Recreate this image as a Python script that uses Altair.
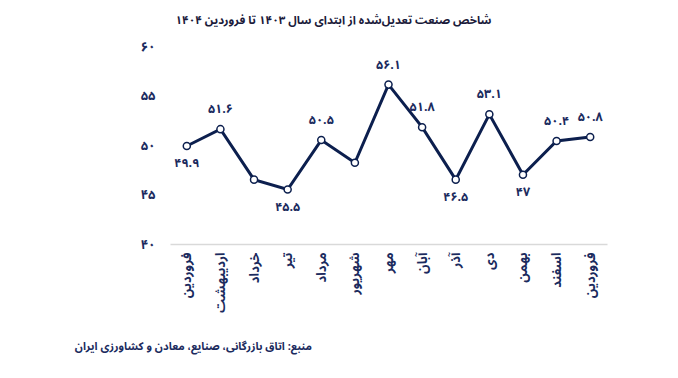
import altair as alt
import pandas as pd

months = ["فروردین", "اردیبهشت", "خرداد", "تیر", "مرداد", "شهریور", "مهر",
          "آبان", "آذر", "دی", "بهمن", "اسفند", "فروردین"]
values = [49.9, 51.6, 46.5, 45.5, 50.5, 48.2, 56.1, 51.8, 46.5, 53.1, 47.0, 50.4, 50.8]
value_labels = ["۴۹.۹", "۵۱.۶", "", "۴۵.۵", "۵۰.۵", "", "۵۶.۱", "۵۱.۸", "۴۶.۵",
                "۵۳.۱", "۴۷", "۵۰.۴", "۵۰.۸"]
label_side = ["below", "above", "below", "below", "above", "below", "above",
              "above", "below", "above", "below", "above", "above"]
y_ticks = [40, 45, 50, 55, 60]
y_tick_labels = ["۴۰", "۴۵", "۵۰", "۵۵", "۶۰"]

title_text = "شاخص صنعت تعدیل‌شده از ابتدای سال ۱۴۰۳ تا فروردین ۱۴۰۴"
source_text = "منبع: اتاق بازرگانی، صنایع، معادن و کشاورزی ایران"

FONT = "Noto Sans Arabic, DejaVu Sans"
NAVY = "#0c1f4e"
TEXT = "#1b2b5e"

df = pd.DataFrame({
    "idx": list(range(len(months))),
    "month": months,
    "value": values,
    "label": value_labels,
    "side": label_side,
})

month_expr = "[" + ",".join("'" + m + "'" for m in months) + "][datum.value]"
ytick_expr = " : ".join(
    f"datum.value == {v} ? '{l}'" for v, l in zip(y_ticks, y_tick_labels)
) + " : datum.label"

x = alt.X(
    "idx:O",
    scale=alt.Scale(type="point", padding=0.5),
    axis=alt.Axis(
        title=None, labelExpr=month_expr, labelAngle=270, labelFont=FONT,
        labelFontSize=13, labelFontWeight="bold", labelColor=TEXT,
        labelPadding=8, ticks=False, domainColor="#d9d9d9", domainWidth=1.5,
        grid=False,
    ),
)
y = alt.Y(
    "value:Q",
    scale=alt.Scale(domain=[40, 60], nice=False, zero=False),
    axis=alt.Axis(
        title=None, values=y_ticks, labelExpr=ytick_expr, labelFont=FONT,
        labelFontSize=13, labelFontWeight="bold", labelColor=TEXT,
        labelPadding=15, ticks=False, domain=False, grid=False,
    ),
)

base = alt.Chart(df)
line = base.mark_line(color=NAVY, strokeWidth=3).encode(x=x, y=y)
pts = base.mark_point(filled=True, fill="white", stroke=NAVY, strokeWidth=1.5,
                      size=50, opacity=1).encode(x=x, y=y)
above = base.transform_filter("datum.side == 'above'").mark_text(
    dy=-20, font=FONT, fontSize=12.5, fontWeight="bold", color=TEXT
).encode(x=x, y=y, text="label:N")
below = base.transform_filter("datum.side == 'below'").mark_text(
    dy=17, font=FONT, fontSize=12.5, fontWeight="bold", color=TEXT
).encode(x=x, y=y, text="label:N")
source = alt.Chart(pd.DataFrame({"t": [source_text]})).mark_text(
    font=FONT, fontSize=11, fontWeight="bold", color=TEXT, align="right",
    baseline="middle"
).encode(x=alt.value(142), y=alt.value(301), text="t:N")

chart = alt.layer(line, pts, above, below, source).properties(
    width=437, height=198,
    autosize=alt.AutoSizeParams(type="none"),
    padding={"left": 170, "top": 46, "right": 71, "bottom": 134},
    title=alt.TitleParams(title_text, font=FONT, fontSize=11.5, fontWeight="bold",
                          color="#1a1a3a", anchor="middle", dx=-55, offset=14),
).configure_view(stroke=None)

chart.save("out.html", embed_options={"renderer": "svg", "actions": False})
